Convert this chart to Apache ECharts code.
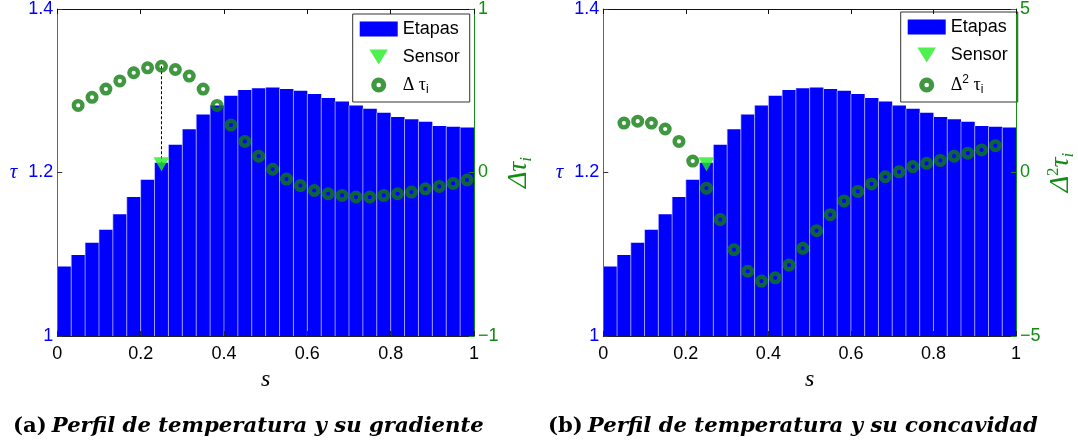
<!DOCTYPE html>
<html>
<head>
<meta charset="utf-8">
<script src="https://cdn.jsdelivr.net/npm/echarts@6/dist/echarts.min.js"></script>
<style>
  html, body { margin: 0; padding: 0; background: #ffffff; }
  #chart { width: 1078px; height: 448px; }
</style>
</head>
<body>
<div id="chart"></div>
<script>
// Temperature of each of the 30 stages along s (stairs from k/30 to (k+1)/30)
const stageTau = [1.085, 1.099, 1.114, 1.130, 1.149, 1.170, 1.191, 1.212, 1.234, 1.253,
                  1.271, 1.282, 1.294, 1.301, 1.303, 1.304, 1.302, 1.300, 1.296, 1.291,
                  1.287, 1.282, 1.278, 1.273, 1.268, 1.265, 1.262, 1.257, 1.256, 1.255];
// First difference  Δτ_i  (stages 1..29)
const gradient = [0.41, 0.46, 0.51, 0.56, 0.61, 0.64, 0.65, 0.63, 0.59, 0.51,
                  0.41, 0.29, 0.19, 0.10, 0.02, -0.04, -0.08, -0.11, -0.13, -0.14,
                  -0.15, -0.15, -0.14, -0.13, -0.12, -0.10, -0.085, -0.067, -0.046];
// Second difference  Δ²τ_i  (stages 1..28)
const concavity = [1.51, 1.57, 1.51, 1.33, 0.95, 0.35, -0.48, -1.44, -2.36, -3.02,
                   -3.32, -3.22, -2.83, -2.32, -1.78, -1.29, -0.87, -0.58, -0.35, -0.13,
                   0.02, 0.18, 0.28, 0.37, 0.50, 0.59, 0.69, 0.82];
// Sensor location and reading
const sensorS = 0.25;
const sensorTau = 1.21;
const stageCount = 30;
const captions = ['Perfil de temperatura y su gradiente', 'Perfil de temperatura y su concavidad'];
const captionTags = ['(a)', '(b)'];

const BLUE = '#0000ff';
const DARK_GREEN = '#0f7d0f';
const AXIS_GREEN = '#128c12';
const SENSOR_GREEN = '#22ee22';
const TAU_MIN = 1, TAU_MAX = 1.4;
const SANS = 'Liberation Sans, Helvetica, Arial, sans-serif';
const SERIF = 'Liberation Serif, DejaVu Serif, serif';

// stairs data: [leftEdge, rightEdge, tau]
const stairs = stageTau.map((t, k) => [k / stageCount, (k + 1) / stageCount, t]);
// difference markers sit at the centre of stage i (i starting at 1)
const gradPts = gradient.map((v, i) => [(i + 1.5) / stageCount, v]);
const concPts = concavity.map((v, i) => [(i + 1.5) / stageCount, v]);

function renderStage(params, api) {
  const top = api.coord([api.value(0), api.value(2)]);
  const bot = api.coord([api.value(1), TAU_MIN]);
  const children = [{
    type: 'rect',
    shape: { x: top[0], y: top[1], width: bot[0] - top[0], height: bot[1] - top[1] },
    style: { fill: BLUE }
  }];
  if (params.dataIndex > 0) {
    children.push({
      type: 'line',
      shape: { x1: top[0], y1: top[1], x2: top[0], y2: bot[1] },
      style: { stroke: 'rgba(225,225,255,0.6)', lineWidth: 1 }
    });
  }
  return { type: 'group', children };
}

const minusFmt = v => String(v).replace('-', '\u2212');

const ringPath = 'path://M0,-6.5A6.5,6.5 0 1,1 0,6.5A6.5,6.5 0 1,1 0,-6.5ZM0,-2A2,2 0 1,0 0,2A2,2 0 1,0 0,-2Z';
const downTriangle = 'path://M0,0L16,0L8,13Z';

const panels = [
  { left: 57.3, width: 416.7, rMin: -1, rMax: 1, rInt: 1, pts: gradPts,
    dotName: 'Δ τi', axisName: '{m|Δτ}{s|i}', legendTop: 14, legendLeft: 352.7 },
  { left: 603.3, width: 417.4, rMin: -5, rMax: 5, rInt: 5, pts: concPts,
    dotName: 'Δ² τi', axisName: '{m|Δ}{p|2}{m|τ}{s|i}', legendTop: 12, legendLeft: 900.7 }
];

const option = {
  backgroundColor: '#ffffff',
  animation: false,
  grid: [], xAxis: [], yAxis: [], series: [], legend: [], title: []
};

panels.forEach((p, g) => {
  option.grid.push({ left: p.left, top: 7, width: p.width, height: 329 });
  // bottom s axis
  option.xAxis.push({
    gridIndex: g, type: 'value', min: 0, max: 1, interval: 0.2, position: 'bottom', z: 10,
    axisLine: { onZero: false, lineStyle: { color: '#222', width: 1 } },
    axisTick: { inside: true, length: 5, lineStyle: { color: '#222' } },
    axisLabel: { color: '#000', fontSize: 18, fontFamily: SANS, margin: 9 },
    splitLine: { show: false },
    name: 's', nameLocation: 'middle', nameGap: 17,
    nameTextStyle: { fontFamily: SERIF, fontStyle: 'italic', fontSize: 24, color: '#000' }
  });
  // top frame
  option.xAxis.push({
    gridIndex: g, type: 'value', min: 0, max: 1, interval: 0.2, position: 'top', z: 10,
    axisLine: { onZero: false, lineStyle: { color: '#111', width: 1 } },
    axisTick: { inside: true, length: 5, lineStyle: { color: '#111' } },
    axisLabel: { show: false }, splitLine: { show: false }
  });
  // left tau axis
  option.yAxis.push({
    gridIndex: g, type: 'value', min: TAU_MIN, max: TAU_MAX, interval: 0.2, position: 'left', z: 10,
    axisLine: { show: true, onZero: false, lineStyle: { color: '#4a7a4a', width: 1 } },
    axisTick: { show: true, inside: true, length: 5, lineStyle: { color: '#333' } },
    axisLabel: { color: BLUE, fontSize: 18, fontFamily: SANS, margin: 4 },
    splitLine: { show: false },
    name: 'τ', nameLocation: 'middle', nameRotate: 0, nameGap: 40,
    nameTextStyle: { fontFamily: SERIF, fontStyle: 'italic', fontSize: 21, color: BLUE }
  });
  // right difference axis
  option.yAxis.push({
    gridIndex: g, type: 'value', min: p.rMin, max: p.rMax, interval: p.rInt, position: 'right', z: 10,
    axisLine: { show: true, onZero: false, lineStyle: { color: AXIS_GREEN, width: 1 } },
    axisTick: { show: true, inside: true, length: 5, lineStyle: { color: AXIS_GREEN } },
    axisLabel: { color: AXIS_GREEN, fontSize: 18, fontFamily: SANS, margin: 4, formatter: minusFmt },
    splitLine: { show: false },
    name: p.axisName, nameLocation: 'middle', nameRotate: 90, nameGap: 29,
    nameTextStyle: {
      color: AXIS_GREEN,
      rich: {
        m: { fontFamily: SERIF, fontStyle: 'italic', fontSize: 28, color: AXIS_GREEN, lineHeight: 32 },
        p: { fontFamily: SERIF, fontSize: 17, color: AXIS_GREEN, lineHeight: 14, verticalAlign: 'top' },
        s: { fontFamily: SERIF, fontStyle: 'italic', fontSize: 17, color: AXIS_GREEN, lineHeight: 12, verticalAlign: 'bottom' }
      }
    }
  });

  const xi = g * 2, yi = g * 2;
  option.series.push({
    name: 'Etapas', type: 'custom', xAxisIndex: xi, yAxisIndex: yi,
    renderItem: renderStage, data: stairs, clip: true, z: 2,
    itemStyle: { color: BLUE }, encode: { x: [0, 1], y: 2 }
  });
  if (g === 0) {
    // dashed drop from the gradient at the sensor to the sensor reading
    const sensorOnRight = p.rMin + (sensorTau - TAU_MIN) / (TAU_MAX - TAU_MIN) * (p.rMax - p.rMin);
    option.series.push({
      name: 'guide', type: 'line', xAxisIndex: xi, yAxisIndex: yi + 1, z: 3,
      symbol: 'none', silent: true,
      lineStyle: { color: '#000', width: 1, type: [3, 2] },
      data: [[sensorS, gradient[6]], [sensorS, sensorOnRight]]
    });
  }
  option.series.push({
    name: p.dotName, type: 'scatter', xAxisIndex: xi, yAxisIndex: yi + 1, z: 4,
    symbol: 'circle', symbolSize: 8.6,
    itemStyle: { color: 'rgba(0,0,0,0)', borderColor: DARK_GREEN, borderWidth: 4.4 },
    data: p.pts
  });
  option.series.push({
    name: 'Sensor', type: 'scatter', xAxisIndex: xi, yAxisIndex: yi, z: 5,
    symbol: 'triangle', symbolRotate: 180, symbolSize: [16, 14],
    itemStyle: { color: SENSOR_GREEN },
    data: [[sensorS, sensorTau]]
  });

  option.legend.push({
    left: p.legendLeft, top: p.legendTop, orient: 'vertical',
    padding: [6, 10, 6, 7], itemGap: 10, itemWidth: 38, itemHeight: 15,
    backgroundColor: '#ffffff', borderColor: '#333', borderWidth: 1, borderRadius: 0,
    selectedMode: false,
    data: [
      { name: 'Etapas', icon: 'rect', itemStyle: { color: BLUE } },
      { name: 'Sensor', icon: downTriangle, itemStyle: { color: SENSOR_GREEN } },
      { name: p.dotName, icon: ringPath, itemStyle: { color: DARK_GREEN, borderWidth: 0 } }
    ],
    formatter: function (name) {
      if (name === 'Δ τi') return '{m|Δ τ}{s|i}';
      if (name === 'Δ² τi') return '{m|Δ}{p|2}{m| τ}{s|i}';
      return '{t|' + name + '}';
    },
    textStyle: {
      color: '#000', fontSize: 18, fontFamily: SANS,
      rich: {
        t: { fontSize: 18, fontFamily: SANS, color: '#000', lineHeight: 16 },
        m: { fontSize: 18, fontFamily: SERIF, color: '#000', lineHeight: 22 },
        p: { fontSize: 12, fontFamily: SANS, color: '#000', lineHeight: 10, verticalAlign: 'top' },
        s: { fontSize: 12, fontFamily: SANS, color: '#000', lineHeight: 10, verticalAlign: 'bottom' }
      }
    }
  });

  option.title.push({
    text: '{b|' + captionTags[g] + '} {i|' + captions[g] + '}',
    left: g === 0 ? 13 : 548, top: 416, padding: 0,
    textStyle: {
      rich: {
        b: { fontFamily: 'DejaVu Serif, serif', fontWeight: 'bold', fontSize: 21.2, color: '#000' },
        i: { fontFamily: 'DejaVu Serif, serif', fontWeight: 'bold', fontStyle: 'italic', fontSize: 21.2, color: '#000' }
      }
    }
  });
});

const chart = echarts.init(document.getElementById('chart'), null, { renderer: 'canvas' });
chart.setOption(option);
</script>
</body>
</html>
